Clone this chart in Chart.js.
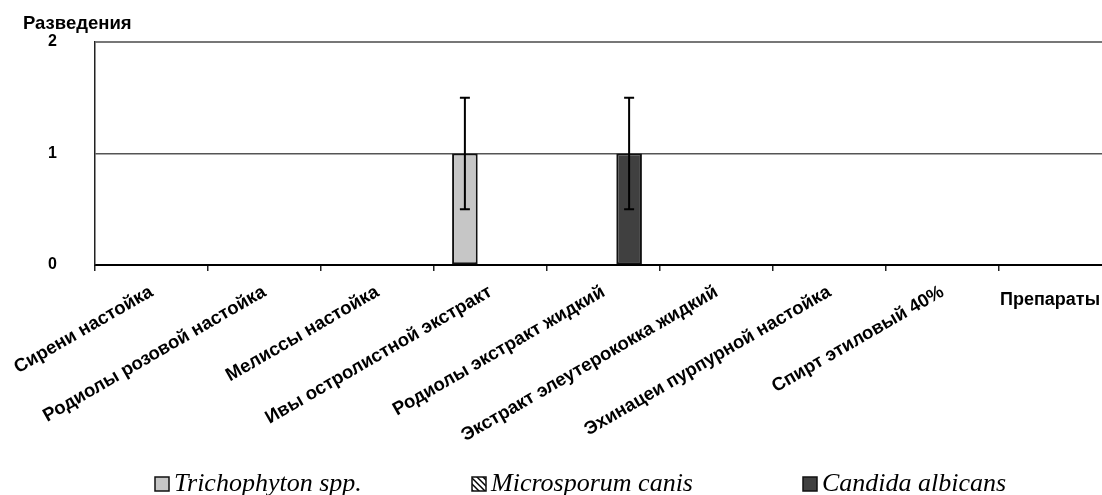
<!DOCTYPE html>
<html>
<head>
<meta charset="utf-8">
<script src="https://cdn.jsdelivr.net/npm/chart.js@4.4.0/dist/chart.umd.min.js"></script>
<style>
    html, body { margin: 0; padding: 0; background: #fff; }
    #wrap { width: 1102px; height: 495px; overflow: hidden; position: relative; }
    canvas { display: block; }
</style>
</head>
<body>
<div id="wrap"><canvas id="chart" width="1112" height="495"></canvas></div>
<script>
// Chart data
const categories = ['Сирени настойка', 'Родиолы розовой настойка', 'Мелиссы настойка',
    'Ивы остролистной экстракт', 'Родиолы экстракт жидкий', 'Экстракт элеутерококка жидкий',
    'Эхинацеи пурпурной настойка', 'Спирт этиловый 40%', ''];
const seriesNames = ['Trichophyton spp.', 'Microsporum canis', 'Candida albicans'];
const trichophyton = [0, 0, 0, 1, 0, 0, 0, 0, 0];
const microsporum = [0, 0, 0, 0, 0, 0, 0, 0, 0];
const candida = [0, 0, 0, 0, 1, 0, 0, 0, 0];
const trichophytonErr = [null, null, null, 0.5, null, null, null, null, 0];
const microsporumErr = [null, null, null, null, null, null, null, null, null];
const candidaErr = [null, null, null, null, 0.5, null, null, null, null];
const yTicks = [0, 1, 2];
const yTitle = 'Разведения';
const xTitle = 'Препараты';

// hatched fill for Microsporum canis
function makeHatch() {
    const c = document.createElement('canvas');
    c.width = 6; c.height = 6;
    const g = c.getContext('2d');
    g.fillStyle = '#fff';
    g.fillRect(0, 0, 6, 6);
    g.strokeStyle = '#000';
    g.lineWidth = 1.5;
    g.beginPath();
    g.moveTo(0, 0); g.lineTo(6, 6);
    g.moveTo(-3, 3); g.lineTo(3, 9);
    g.moveTo(3, -3); g.lineTo(9, 3);
    g.stroke();
    return g.createPattern(c, 'repeat');
}
const hatch = makeHatch();

// Draw error bars on top of the bars
const errorBars = {
    id: 'errorBars',
    afterDatasetsDraw(chart) {
        const ctx = chart.ctx;
        const y = chart.scales.y;
        chart.data.datasets.forEach((ds, i) => {
            const meta = chart.getDatasetMeta(i);
            meta.data.forEach((bar, j) => {
                const err = ds.errors[j];
                if (err === null) return;
                const v = ds.data[j];
                const top = y.getPixelForValue(v + err);
                const bot = y.getPixelForValue(v - err);
                ctx.save();
                ctx.strokeStyle = '#000';
                ctx.lineWidth = 2;
                ctx.beginPath();
                ctx.moveTo(bar.x, top); ctx.lineTo(bar.x, bot);
                ctx.moveTo(bar.x - 5, top); ctx.lineTo(bar.x + 5, top);
                ctx.moveTo(bar.x - 5, bot); ctx.lineTo(bar.x + 5, bot);
                ctx.stroke();
                ctx.restore();
            });
        });
    }
};

// Axis titles and legend row
const extras = {
    id: 'extras',
    afterDraw(chart) {
        const ctx = chart.ctx;
        const area = chart.chartArea;
        ctx.save();
        ctx.fillStyle = '#000';
        ctx.font = 'bold 18.5px "Liberation Sans", Arial, sans-serif';
        ctx.textBaseline = 'alphabetic';
        ctx.textAlign = 'left';
        ctx.fillText(yTitle, 23, 29);
        ctx.textAlign = 'right';
        ctx.font = 'bold 18px "Liberation Sans", Arial, sans-serif';
        ctx.fillText(xTitle, 1100, area.bottom + 40);

        // legend
        const xs = [155, 472, 803];
        ctx.font = 'italic 26px "Liberation Serif", "Times New Roman", serif';
        ctx.textAlign = 'left';
        chart.data.datasets.forEach((ds, i) => {
            const bx = xs[i];
            ctx.fillStyle = ds.backgroundColor;
            ctx.fillRect(bx, 477, 14, 14);
            ctx.strokeStyle = '#111';
            ctx.lineWidth = 1.5;
            ctx.strokeRect(bx, 477, 14, 14);
            ctx.fillStyle = '#000';
            ctx.fillText(ds.label, bx + 19, 491);
        });
        ctx.restore();
    }
};

const ctx = document.getElementById('chart').getContext('2d');
new Chart(ctx, {
    type: 'bar',
    data: {
        labels: categories,
        datasets: [
            { label: seriesNames[0], data: trichophyton, errors: trichophytonErr,
              backgroundColor: '#c6c6c6', borderColor: '#111', borderWidth: 2 },
            { label: seriesNames[1], data: microsporum, errors: microsporumErr,
              backgroundColor: hatch, borderColor: '#111', borderWidth: 2 },
            { label: seriesNames[2], data: candida, errors: candidaErr,
              backgroundColor: '#404040', borderColor: '#111', borderWidth: 2 }
        ]
    },
    options: {
        responsive: false,
        animation: false,
        events: [],
        categoryPercentage: 0.68,
        barPercentage: 1,
        borderSkipped: false,
        layout: { padding: { left: 48, top: 42, right: 0, bottom: 0 } },
        plugins: {
            legend: { display: false },
            tooltip: { enabled: false }
        },
        scales: {
            x: {
                offset: true,
                grid: {
                    offset: true,
                    drawOnChartArea: false,
                    drawTicks: true,
                    tickLength: 6,
                    color: '#222',
                    lineWidth: 1.5
                },
                border: { display: true, color: '#000', width: 2 },
                ticks: {
                    autoSkip: false,
                    maxRotation: 30,
                    minRotation: 30,
                    padding: 10,
                    color: '#000',
                    font: { family: '"Liberation Sans", Arial, sans-serif', size: 18.5, weight: 'bold' }
                },
                afterFit(scale) { scale.height = 230; }
            },
            y: {
                min: 0,
                max: 2,
                afterBuildTicks(scale) { scale.ticks = yTicks.map(v => ({ value: v })); },
                grid: {
                    drawTicks: false,
                    color: (c) => c.tick.value === 1 ? '#555' : (c.tick.value === 2 ? '#777' : 'rgba(0,0,0,0)'),
                    lineWidth: (c) => c.tick.value === 2 ? 2 : 1.5
                },
                border: { display: true, color: '#222', width: 1.5 },
                ticks: {
                    padding: 0,
                    crossAlign: 'far',
                    color: '#000',
                    font: { family: '"Liberation Sans", Arial, sans-serif', size: 16, weight: 'bold' }
                },
                afterFit(scale) { scale.width = 47; }
            }
        }
    },
    plugins: [errorBars, extras]
});
</script>
</body>
</html>
